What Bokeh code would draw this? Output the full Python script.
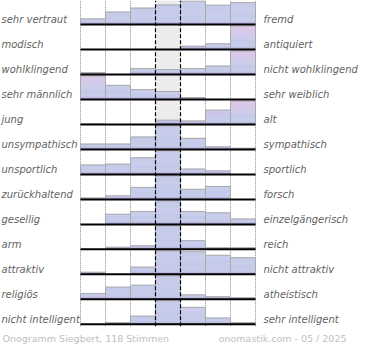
import numpy as np
from bokeh.plotting import figure
from bokeh.models import Range1d
from bokeh.embed import file_html
from bokeh.resources import INLINE
from bokeh.core.properties import value

# ---------------- data ----------------
left_labels = ["sehr vertraut", "modisch", "wohlklingend", "sehr männlich", " jung",
               "unsympathisch", "unsportlich", "zurückhaltend", "gesellig", "arm",
               "attraktiv", "religiös", "nicht intelligent"]
right_labels = ["fremd", "antiquiert", "nicht wohlklingend", "sehr weiblich", "alt",
                "sympathisch", "sportlich", "forsch", "einzelgängerisch", "reich",
                "nicht attraktiv", "atheistisch", "sehr intelligent"]
# relative bar heights per row (largest bar of each row = 100), 7 steps left -> right
row_sehr_vertraut = [24, 53, 70, 83, 100, 82, 93]
row_modisch = [0, 0, 0, 0, 14, 24, 100]
row_wohlklingend = [8, 0, 25, 21, 25, 36, 100]
row_maennlich = [100, 60, 42, 34, 8, 0, 0]
row_jung = [2, 0, 0, 18, 15, 61, 100]
row_unsympathisch = [23, 23, 53, 100, 47, 11, 5]
row_unsportlich = [40, 44, 71, 100, 23, 15, 0]
row_zurueckhaltend = [6, 15, 51, 100, 43, 55, 0]
row_gesellig = [0, 43, 55, 100, 55, 49, 23]
row_arm = [0, 9, 15, 100, 37, 7, 7]
row_attraktiv = [9, 0, 31, 100, 96, 81, 71]
row_religioes = [25, 52, 60, 100, 19, 11, 7]
row_nicht_intelligent = [0, 7, 35, 100, 72, 27, 7]
rows = [row_sehr_vertraut, row_modisch, row_wohlklingend, row_maennlich, row_jung,
        row_unsympathisch, row_unsportlich, row_zurueckhaltend, row_gesellig, row_arm,
        row_attraktiv, row_religioes, row_nicht_intelligent]
footer_left = "Onogramm Siegbert, 118 Stimmen"
footer_right = "onomastik.com - 05 / 2025"

# ---------------- layout / style ----------------
W, H = 362, 344
PX = 25.0          # px per column
ROW = 26.0         # px per row (reference)
FULL = 24.5 / ROW  # full bar height in row units
x0 = 0.5 - 80 / PX
x1 = x0 + W / PX
ytop = 25 / ROW
ybot = (25 - 358) / ROW

p = figure(width=W, height=H, output_backend="svg", toolbar_location=None,
           x_range=Range1d(x0, x1), y_range=Range1d(ybot, ytop),
           x_axis_location=None, y_axis_location=None, min_border=0)
p.xgrid.visible = False
p.ygrid.visible = False
p.outline_line_color = None
p.background_fill_color = "white"
p.border_fill_color = "white"

n = len(rows)
last_base = -(n - 1)
grid_bottom = last_base - 2 / ROW

# centre column background
p.quad(left=[3.5], right=[4.5], bottom=[last_base], top=[ytop],
       fill_color="#ececec", line_color=None)

# dotted column borders
dotted = [0.5, 1.5, 2.5, 5.5, 6.5, 7.5]
p.segment(x0=dotted, x1=dotted, y0=[grid_bottom] * len(dotted), y1=[ytop] * len(dotted),
          line_color="#8a8a8a", line_width=1, line_dash="1 1")

blue = np.array([197, 202, 234])
purple = np.array([160, 148, 206])
pink = np.array([222, 198, 232])

def hexc(c):
    c = np.clip(np.round(c), 0, 255).astype(int)
    return "#%02x%02x%02x" % tuple(c)

sl_l, sl_r, sl_b, sl_t, sl_c = [], [], [], [], []
ol_l, ol_r, ol_b, ol_t = [], [], [], []
for r, vals in enumerate(rows):
    base = -r
    total = float(sum(vals))
    for c, v in enumerate(vals):
        if v <= 0:
            continue
        xc = c + 1
        h = v / 100.0 * FULL
        share = v / total
        pw = 0.0 if xc == 4 else float(np.clip((share - 0.25) / 0.2, 0, 1))
        npx = max(1, int(np.ceil(h * ROW)))
        step = h / npx
        for k in range(npx):
            d = (k + 0.5) * step
            col = blue.astype(float)
            bd = d * ROW
            if bd < 3.5:
                t = bd / 3.5
                col = purple * (1 - t) + blue * t
            s = d / h
            wpk = pw * float(np.clip((s - 0.35) / 0.65, 0, 1))
            col = col * (1 - wpk) + pink * wpk
            sl_l.append(xc - 0.5); sl_r.append(xc + 0.5)
            sl_b.append(base + k * step); sl_t.append(base + (k + 1) * step)
            sl_c.append(hexc(col))
        ol_l.append(xc - 0.5); ol_r.append(xc + 0.5)
        ol_b.append(base); ol_t.append(base + h)

p.quad(left=sl_l, right=sl_r, bottom=sl_b, top=sl_t, fill_color=sl_c,
       line_color=sl_c, line_width=0.5)
p.quad(left=ol_l, right=ol_r, bottom=ol_b, top=ol_t, fill_color=None,
       line_color="#aaaaaa", line_width=1)

# baselines
bases = [-r for r in range(n)]
p.segment(x0=[0.5] * n, x1=[7.5] * n, y0=bases, y1=bases,
          line_color="black", line_width=2)

# dashed centre borders
dashed = [3.5, 4.5]
p.segment(x0=dashed, x1=dashed, y0=[grid_bottom] * 2, y1=[ytop] * 2,
          line_color="black", line_width=1.2, line_dash="4 2")

# labels
lab_y = [b + 5.5 / ROW for b in bases]
p.text(x=[x0 + 1 / PX] * n, y=lab_y, text=left_labels,
       text_font=value("DejaVu Sans"), text_font_style="italic",
       text_font_size="10px", text_color="#626262",
       text_align="left", text_baseline="middle")
p.text(x=[7.5 + 8 / PX] * n, y=lab_y, text=right_labels,
       text_font=value("DejaVu Sans"), text_font_style="italic",
       text_font_size="10px", text_color="#626262",
       text_align="left", text_baseline="middle")

fy = (25 - 352) / ROW
p.text(x=[x0 + 2 / PX], y=[fy], text=[footer_left],
       text_font=value("DejaVu Sans"), text_font_size="9.5px", text_color="#c0c0c0",
       text_align="left", text_baseline="middle")
p.text(x=[x0 + 346 / PX], y=[fy], text=[footer_right],
       text_font=value("DejaVu Sans"), text_font_size="9.5px", text_color="#c0c0c0",
       text_align="right", text_baseline="middle")

open("out.html", "w").write(file_html(p, INLINE))
